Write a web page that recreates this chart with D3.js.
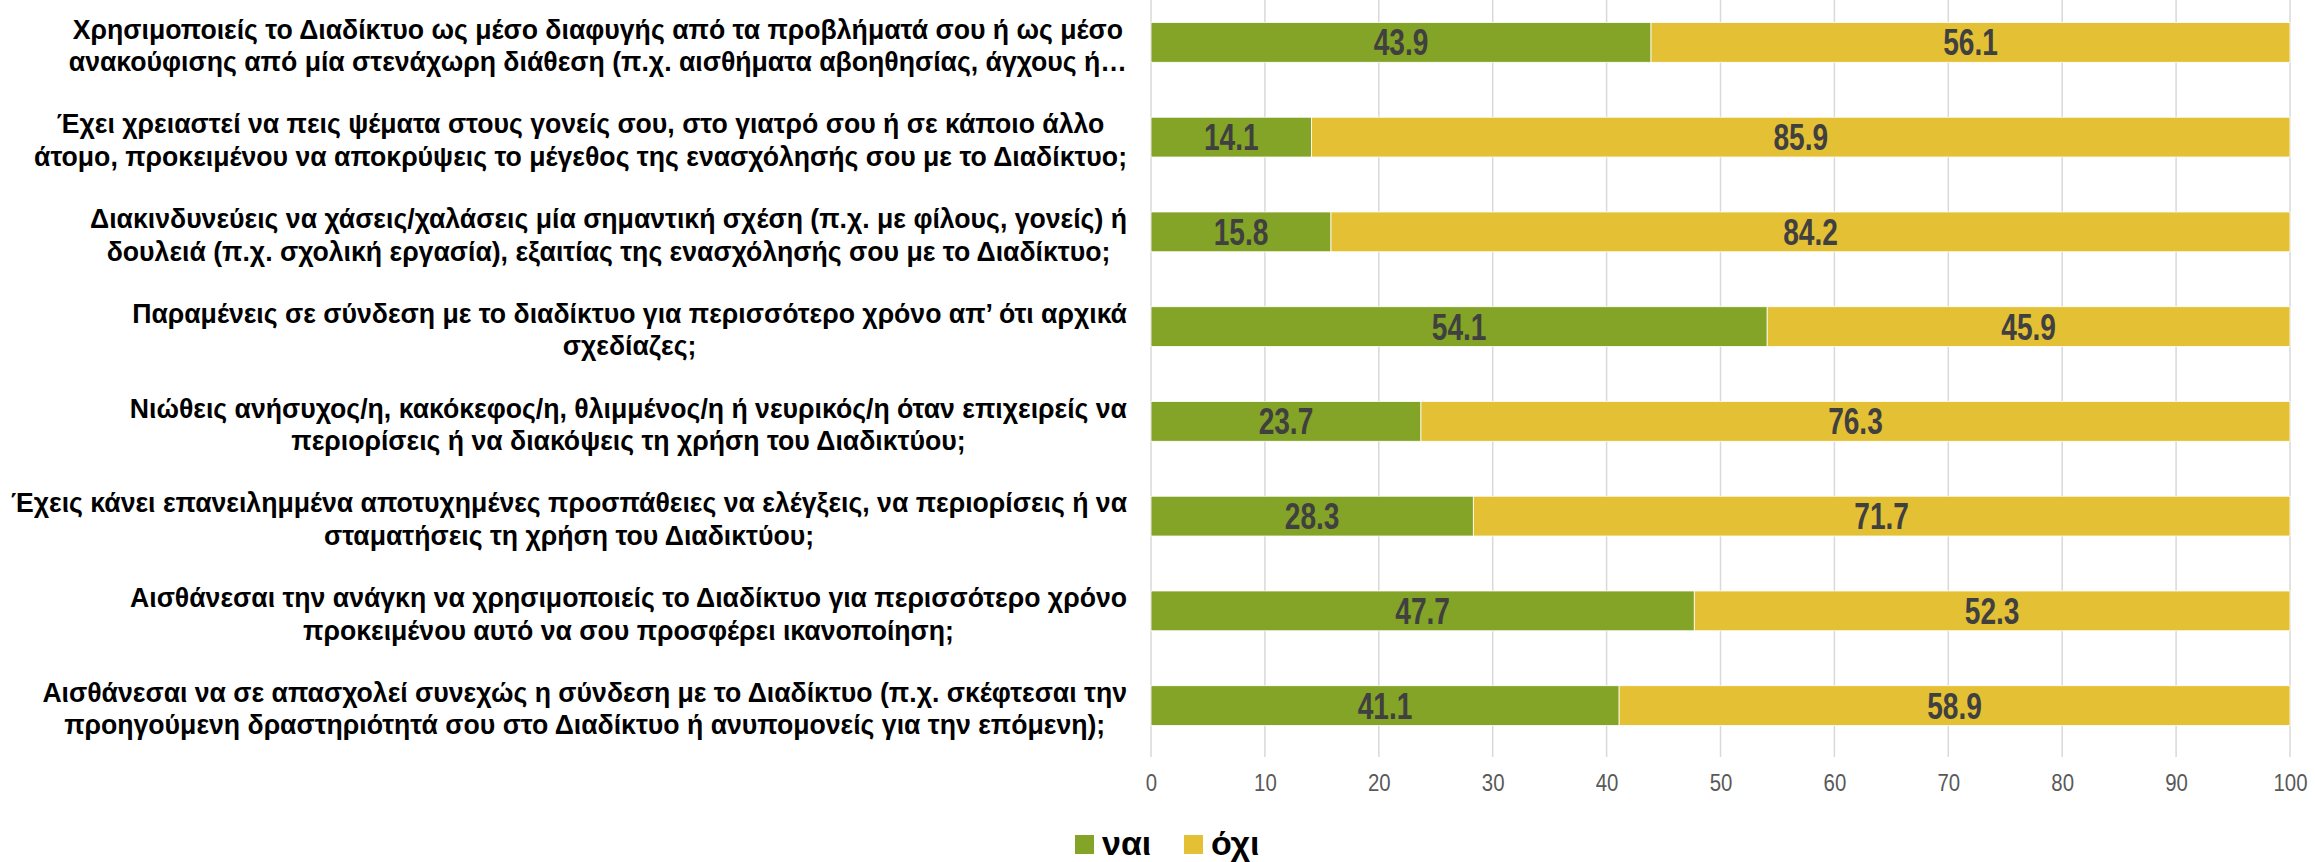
<!DOCTYPE html>
<html lang="el">
<head>
    <meta charset="UTF-8">
    <title>Chart</title>
    <script src="https://cdn.jsdelivr.net/npm/d3@7"></script>
    <style>
        body { margin: 0; background: #fff; }
        .lbl { font-family: "Liberation Sans", Arial, sans-serif; font-weight: bold; fill: #000; }
        .val { font-family: "Liberation Sans", Arial, sans-serif; font-weight: bold; fill: #404040; }
        .tick text { font-family: "Liberation Sans", Arial, sans-serif; fill: #595959; }
    </style>
</head>
<body>
<script>
    // questions, each as the two lines shown on the chart
    const categories = [
        ["Χρησιμοποιείς το Διαδίκτυο ως μέσο διαφυγής από τα προβλήματά σου ή ως μέσο",
         "ανακούφισης από μία στενάχωρη διάθεση (π.χ. αισθήματα αβοηθησίας, άγχους ή…"],
        ["Έχει χρειαστεί να πεις ψέματα στους γονείς σου, στο γιατρό σου ή σε κάποιο άλλο",
         "άτομο, προκειμένου να αποκρύψεις το μέγεθος της ενασχόλησής σου με το Διαδίκτυο;"],
        ["Διακινδυνεύεις να χάσεις/χαλάσεις μία σημαντική σχέση (π.χ. με φίλους, γονείς) ή",
         "δουλειά (π.χ. σχολική εργασία), εξαιτίας της ενασχόλησής σου με το Διαδίκτυο;"],
        ["Παραμένεις σε σύνδεση με το διαδίκτυο για περισσότερο χρόνο απ’ ότι αρχικά",
         "σχεδίαζες;"],
        ["Νιώθεις ανήσυχος/η, κακόκεφος/η, θλιμμένος/η ή νευρικός/η όταν επιχειρείς να",
         "περιορίσεις ή να διακόψεις τη χρήση του Διαδικτύου;"],
        ["Έχεις κάνει επανειλημμένα αποτυχημένες προσπάθειες να ελέγξεις, να περιορίσεις ή να",
         "σταματήσεις τη χρήση του Διαδικτύου;"],
        ["Αισθάνεσαι την ανάγκη να χρησιμοποιείς το Διαδίκτυο για περισσότερο χρόνο",
         "προκειμένου αυτό να σου προσφέρει ικανοποίηση;"],
        ["Αισθάνεσαι να σε απασχολεί συνεχώς η σύνδεση με το Διαδίκτυο (π.χ. σκέφτεσαι την",
         "προηγούμενη δραστηριότητά σου στο Διαδίκτυο ή ανυπομονείς για την επόμενη);"]
    ];
    const yes = [43.9, 14.1, 15.8, 54.1, 23.7, 28.3, 47.7, 41.1];
    const no  = [56.1, 85.9, 84.2, 45.9, 76.3, 71.7, 52.3, 58.9];
    const seriesNames = ["ναι", "όχι"];
    const xTicks = [0, 10, 20, 30, 40, 50, 60, 70, 80, 90, 100];

    const w = 2315, h = 862;
    const colors = ["#84a427", "#e4c134"];

    const svg = d3.select('body').append('svg')
        .attr('width', w)
        .attr('height', h);

    const x = d3.scaleLinear().domain([0, 100]).range([1151, 2290]);
    const y = d3.scaleBand()
        .domain(d3.range(categories.length))
        .range([-5, 753])
        .paddingInner(0.58)
        .paddingOuter(0.29);

    // squeeze text horizontally, the original font is a narrow one
    function squeeze(sel, f) {
        sel.each(function() {
            const len = this.getComputedTextLength();
            d3.select(this).attr('textLength', len * f).attr('lengthAdjust', 'spacingAndGlyphs');
        });
    }

    // vertical grid lines
    svg.append('g')
        .selectAll('line')
        .data(xTicks)
        .enter()
        .append('line')
        .attr('x1', d => x(d)).attr('x2', d => x(d))
        .attr('y1', 0).attr('y2', 757)
        .attr('stroke', '#d9d9d9')
        .attr('stroke-width', 1.5);

    // x axis labels
    const xAxis = svg.append('g')
        .attr('transform', 'translate(0,757)')
        .call(d3.axisBottom(x).tickValues(xTicks).tickSize(0).tickPadding(17));
    xAxis.select('.domain').remove();
    xAxis.selectAll('text').attr('font-size', 24).call(squeeze, 0.85);

    // stacked bars
    const rows = categories.map((c, i) => ({i: i, parts: [[0, yes[i]], [yes[i], yes[i] + no[i]]]}));

    const g = svg.append('g');
    rows.forEach(r => {
        r.parts.forEach((p, k) => {
            g.append('rect')
                .attr('x', x(p[0]))
                .attr('y', y(r.i))
                .attr('width', x(p[1]) - x(p[0]))
                .attr('height', y.bandwidth())
                .attr('fill', colors[k])
                .attr('stroke', '#fff')
                .attr('stroke-width', 0.8);
            g.append('text')
                .attr('class', 'val')
                .attr('x', (x(p[0]) + x(p[1])) / 2)
                .attr('y', y(r.i) + y.bandwidth() / 2)
                .attr('dy', '0.36em')
                .attr('text-anchor', 'middle')
                .attr('font-size', 36)
                .text((k === 0 ? yes[r.i] : no[r.i]).toFixed(1))
                .call(squeeze, 0.78);
        });
    });

    // category labels: lines centred to each other, block right-aligned
    const right = 1127;
    const widest = 1116;
    const lg = svg.append('g');
    const labelNodes = [];
    categories.forEach((lines, i) => {
        const cy = y(i) + y.bandwidth() / 2 + 3;
        const t = lines.map((s, j) => lg.append('text')
            .attr('class', 'lbl')
            .attr('font-size', 27)
            .attr('text-anchor', 'middle')
            .attr('y', cy + (j - (lines.length - 1) / 2) * 32.5)
            .attr('dy', '0.35em')
            .text(s));
        labelNodes.push(t);
    });
    const maxAll = d3.max(labelNodes.flat(), n => n.node().getComputedTextLength());
    const f = widest / maxAll;
    labelNodes.forEach(t => {
        const maxW = d3.max(t, n => n.node().getComputedTextLength()) * f;
        t.forEach(n => {
            n.call(squeeze, f);
            n.attr('x', right - maxW / 2);
        });
    });

    // legend
    const leg = svg.append('g');
    const legX = [1075, 1184];
    seriesNames.forEach((s, k) => {
        leg.append('rect')
            .attr('x', legX[k]).attr('y', 835)
            .attr('width', 19).attr('height', 19)
            .attr('fill', colors[k]);
        leg.append('text')
            .attr('class', 'lbl')
            .attr('x', legX[k] + 27).attr('y', 843)
            .attr('dy', '0.35em')
            .attr('font-size', 34)
            .text(s);
    });
</script>
</body>
</html>
